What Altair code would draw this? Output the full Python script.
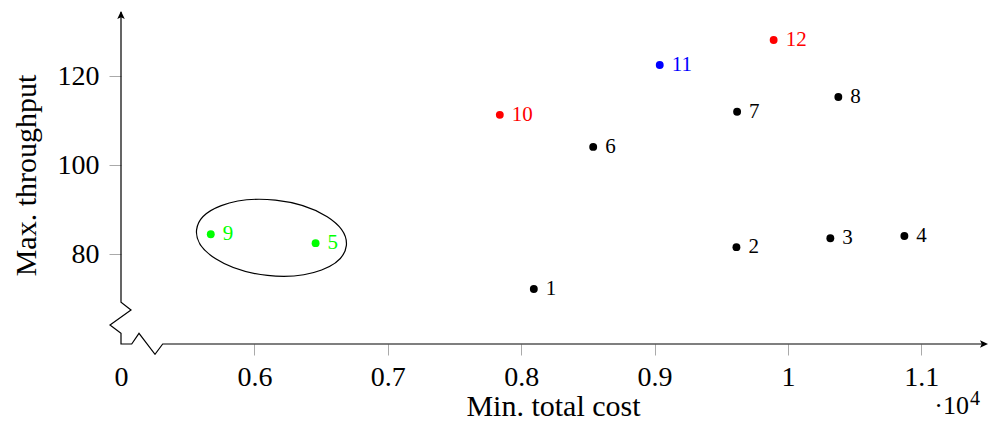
import altair as alt
import pandas as pd

# ---- data ----
ids = [str(i) for i in range(1, 13)]
cost = [8095, 9614, 10318, 10873, 6459, 8540, 9619, 10378, 5673, 7840, 9039, 9893]
throughput = [72.2, 81.6, 83.6, 84.1, 82.5, 104.1, 112.0, 115.3, 84.5, 111.3, 122.5, 128.1]
colors = ["black", "black", "black", "black", "#00ff00", "black", "black", "black",
          "#00ff00", "#ff0000", "#0000ff", "#ff0000"]

x_ticks = [5000, 6000, 7000, 8000, 9000, 10000, 11000]
y_ticks = [80, 100, 120]

# ellipse annotation around points 9 and 5 (data coords of centre)
ell_cost = [6128]
ell_thr = [83.7]

# axis decoration path (pixel offsets from plot's top-left corner)
axis_px = [0, 0, 10, -11, 0, 0, 10.7, 18, 34, 41.7, 862]
axis_py = [0, 290.3, 298, 313, 321.3, 332, 332, 321.3, 342.3, 332, 332]

FONT = "Liberation Serif"

df = pd.DataFrame({"id": ids, "cost": cost, "thr": throughput, "col": colors})
ell = pd.DataFrame({"cost": ell_cost, "thr": ell_thr})
path = pd.DataFrame({"px": axis_px, "py": axis_py, "i": list(range(len(axis_px)))})
arrows = pd.DataFrame({"px": [0, 862], "py": [4, 332], "a": [0, 90]})
mult = pd.DataFrame({"px": [848], "py": [402], "t": ["·10"]})
sup = pd.DataFrame({"px": [849], "py": [393], "t": ["4"]})

xsc = alt.Scale(domain=[5000, 11500], nice=False, zero=False)
ysc = alt.Scale(domain=[59.85, 134.4], nice=False, zero=False)

xaxis = alt.Axis(
    values=x_ticks,
    labelExpr="datum.value == 5000 ? '0' : format(datum.value / 10000, '~g')",
    domain=False, grid=False,
    tickSize=11, tickColor="#aaaaaa", tickWidth=1,
    tickOpacity=alt.condition("datum.value == 5000", alt.value(0), alt.value(1)),
    labelFont=FONT, labelFontSize=28, labelColor="black",
    labelPadding=30, labelBaseline="alphabetic",
    labelFlush=False, labelOverlap=False,
    titleFont=FONT, titleFontSize=30, titleFontWeight="normal", titleColor="black",
    titleX=432, titleY=71, titleAlign="center", titleBaseline="alphabetic",
)
yaxis = alt.Axis(
    values=y_ticks,
    domain=False, grid=False,
    tickSize=12, tickColor="#aaaaaa", tickWidth=1,
    labelFont=FONT, labelFontSize=28, labelColor="black", labelPadding=10,
    labelOverlap=False,
    titleFont=FONT, titleFontSize=30, titleFontWeight="normal", titleColor="black",
    titleX=-86, titleY=163, titleAngle=-90, titleAlign="center", titleBaseline="alphabetic",
)

base = alt.Chart(df)
points = base.mark_circle(size=62, opacity=1).encode(
    x=alt.X("cost:Q", scale=xsc, axis=xaxis, title="Min. total cost"),
    y=alt.Y("thr:Q", scale=ysc, axis=yaxis, title="Max. throughput"),
    color=alt.Color("col:N", scale=None),
)
labels = base.mark_text(align="left", baseline="middle", dx=12, fontSize=21, font=FONT).encode(
    x=alt.X("cost:Q", scale=xsc),
    y=alt.Y("thr:Q", scale=ysc),
    text="id:N",
    color=alt.Color("col:N", scale=None),
)
ELLIPSE = ("M -1 0 C -1 -0.278 -0.5523 -0.503 0 -0.503 C 0.5523 -0.503 1 -0.278 1 0 "
           "C 1 0.278 0.5523 0.503 0 0.503 C -0.5523 0.503 -1 0.278 -1 0 Z")
ellipse = alt.Chart(ell).mark_point(
    shape=ELLIPSE, size=22680, angle=6, filled=False, color="black", strokeWidth=1.2, opacity=1
).encode(
    x=alt.X("cost:Q", scale=xsc),
    y=alt.Y("thr:Q", scale=ysc),
)
data_layer = alt.layer(ellipse, points, labels)

axis_line = alt.Chart(path).mark_line(color="black", strokeWidth=1.2).encode(
    x=alt.X("px:Q", scale=None, axis=None),
    y=alt.Y("py:Q", scale=None, axis=None),
    order="i:Q",
)
ARROW = "M 0 -1 L 0.75 0.6 L 0 0.25 L -0.75 0.6 Z"
heads = alt.Chart(arrows).mark_point(
    shape=ARROW, size=100, filled=True, color="black", opacity=1
).encode(
    x=alt.X("px:Q", scale=None, axis=None),
    y=alt.Y("py:Q", scale=None, axis=None),
    angle=alt.Angle("a:Q", scale=None),
)
mult_text = alt.Chart(mult).mark_text(
    align="right", baseline="alphabetic", fontSize=26, font=FONT, color="black"
).encode(
    x=alt.X("px:Q", scale=None, axis=None),
    y=alt.Y("py:Q", scale=None, axis=None),
    text="t:N",
)
sup_text = alt.Chart(sup).mark_text(
    align="left", baseline="alphabetic", fontSize=20, font=FONT, color="black"
).encode(
    x=alt.X("px:Q", scale=None, axis=None),
    y=alt.Y("py:Q", scale=None, axis=None),
    text="t:N",
)
deco = alt.layer(axis_line, heads, mult_text, sup_text)

chart = alt.layer(data_layer, deco).resolve_scale(
    x="independent", y="independent"
).properties(
    width=867, height=332,
    padding={"left": 121, "top": 12, "right": 1, "bottom": 77},
    autosize=alt.AutoSizeParams(type="none"),
    view=alt.ViewBackground(strokeWidth=0, stroke="transparent"),
).configure_view(strokeWidth=0, stroke="transparent").configure(font=FONT)

chart.save("out.html", embed_options={"renderer": "svg", "actions": False})
